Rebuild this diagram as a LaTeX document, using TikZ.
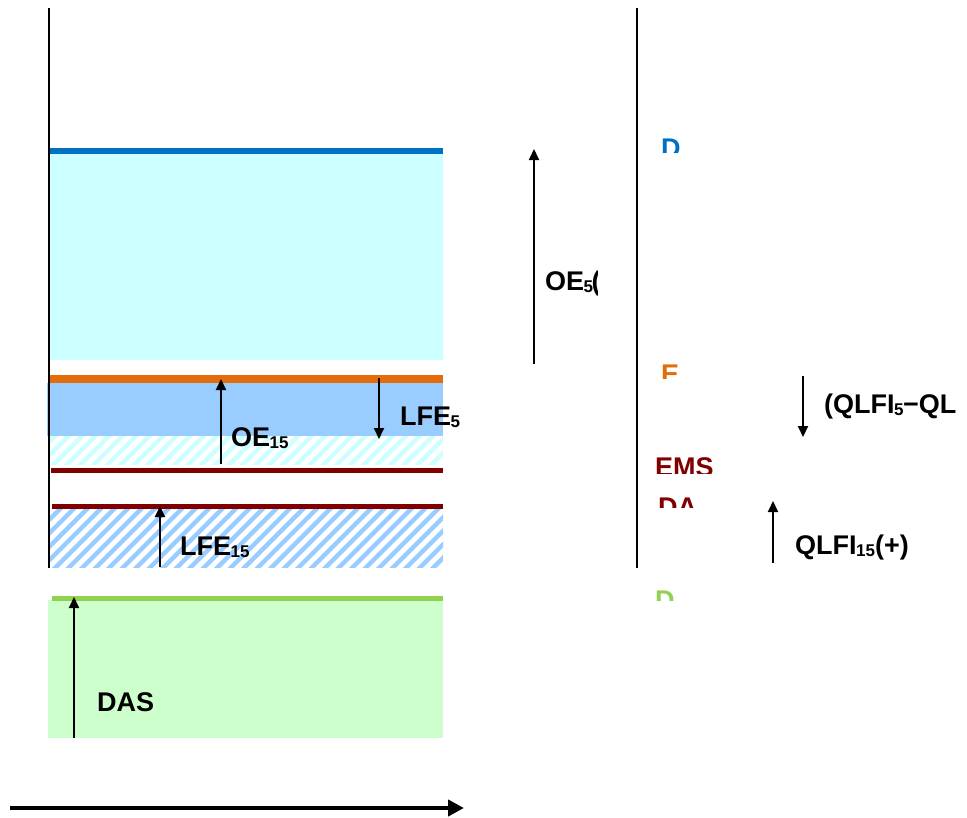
\documentclass[tikz,border=0pt]{standalone}
\usepackage{fontspec}
\setmainfont{Liberation Sans}
\usetikzlibrary{arrows.meta}
\definecolor{lineblue}{HTML}{0070C0}
\definecolor{fillcyan}{HTML}{CCFFFF}
\definecolor{lineorange}{HTML}{E46C0A}
\definecolor{fillblue}{HTML}{99CCFF}
\definecolor{linered}{HTML}{800000}
\definecolor{linegreen}{HTML}{92D050}
\definecolor{fillgreen}{HTML}{CCFFCC}
\newcommand\lsub[1]{\kern-0.5pt\raisebox{-2.5pt}{\fontsize{17}{17}\selectfont #1}}
\tikzset{
  axis/.style={line width=2pt,black},
  level/.style={line width=#1},
  flow/.style={line width=2pt,-{Triangle[length=11pt,width=10pt]}},
  lbl/.style={anchor=base west,inner sep=0pt,font=\fontsize{27}{27}\selectfont\bfseries},
  hatchline/.style={line width=4.5pt,#1},
}
\begin{document}
\begin{tikzpicture}[x=1pt,y=-1pt]
\useasboundingbox (0,0) rectangle (967,817);
% fills
\fill[fillcyan] (50,152) rectangle (443,360);
\fill[fillblue] (47,383) rectangle (443,436);
\begin{scope}
  \clip (48,436) rectangle (443,464);
  \foreach \i in {-4,...,32} \draw[hatchline=fillcyan] (48+\i*13.5,470) -- ++(40,-40);
\end{scope}
\begin{scope}
  \clip (48,509) rectangle (443,567);
  \foreach \i in {-6,...,32} \draw[hatchline=fillblue] (48+\i*13.5,575) -- ++(80,-80);
\end{scope}
\fill[fillgreen] (48,600) rectangle (443,738);
% level lines
\draw[level=6pt,lineblue] (50,151) -- (443,151);
\draw[level=8pt,lineorange] (50,379) -- (443,379);
\draw[level=5pt,linered] (51,470) -- (443,470);
\draw[level=5pt,linered] (52,506) -- (443,506);
\draw[level=5pt,linegreen] (52,598) -- (443,598);
% axes
\coordinate (l1) at (49,8); \coordinate (l2) at (49,568);
\coordinate (r1) at (637,8); \coordinate (r2) at (637,568);
\draw[axis] (l1) -- (l2);
\draw[axis] (r1) -- (r2);
\coordinate (b1) at (10,808); \coordinate (b2) at (464,808);
\draw[line width=4pt,-{Triangle[length=16pt,width=16pt]}] (b1) -- (b2);
% arrows
\coordinate (oe15a) at (221,464); \coordinate (oe15b) at (221,379);
\draw[flow] (oe15a) -- (oe15b);
\coordinate (lfe5a) at (379,378); \coordinate (lfe5b) at (379,439);
\draw[flow] (lfe5a) -- (lfe5b);
\coordinate (lfe15a) at (160,567); \coordinate (lfe15b) at (160,506);
\draw[flow] (lfe15a) -- (lfe15b);
\coordinate (dasa) at (74,738); \coordinate (dasb) at (74,597);
\draw[flow] (dasa) -- (dasb);
\coordinate (oe5a) at (534,364); \coordinate (oe5b) at (534,149);
\draw[flow] (oe5a) -- (oe5b);
\coordinate (qa) at (803,376); \coordinate (qb) at (803,437);
\draw[flow] (qa) -- (qb);
\coordinate (qqa) at (773,563); \coordinate (qqb) at (773,501);
\draw[flow] (qqa) -- (qqb);
% labels
\node[lbl] (toe15) at (231,446) {OE\lsub{15}};
\node[lbl] (tlfe5) at (400,425) {LFE\lsub{5}};
\node[lbl] (tlfe15) at (180,555) {LFE\lsub{15}};
\node[lbl] (tdas) at (97,711) {DAS};
\begin{scope}
  \clip (540,250) rectangle (597,310);
  \node[lbl] (toe5) at (545,290) {OE\lsub{5}\kern-1.5pt(};
\end{scope}
\node[lbl] (tq5) at (824,413) {(QLFI\lsub{5}\kern-0.5pt{}−QL};
\node[lbl] (tq15) at (795,554) {QLFI\lsub{15}(+)};
% clipped right labels
\begin{scope}
  \clip (650,120) rectangle (720,152);
  \node[lbl,text=lineblue] (td1) at (661,157) {D};
\end{scope}
\begin{scope}
  \clip (650,350) rectangle (720,378);
  \node[lbl,text=lineorange] (te) at (661,383) {E};
\end{scope}
\begin{scope}
  \clip (650,440) rectangle (740,473);
  \node[lbl,text=linered] (tems) at (655,476) {EMS};
\end{scope}
\begin{scope}
  \clip (650,485) rectangle (740,507);
  \node[lbl,text=linered] (tda) at (658,516) {DA};
\end{scope}
\begin{scope}
  \clip (650,575) rectangle (720,600);
  \node[lbl,text=linegreen] (td2) at (655,609) {D};
\end{scope}
\end{tikzpicture}
\end{document}
